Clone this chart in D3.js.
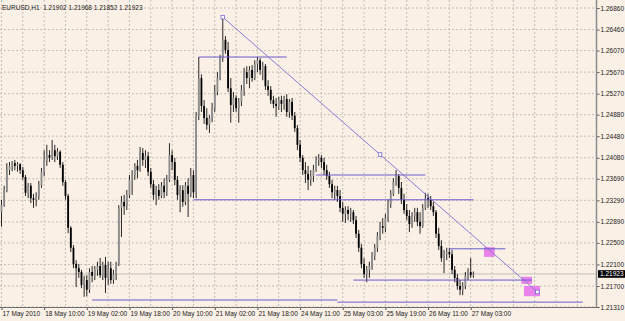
<!DOCTYPE html>
<html>
<head>
<meta charset="utf-8">
<script src="https://cdn.jsdelivr.net/npm/d3@7"></script>
<style>
  html, body { margin: 0; padding: 0; background: #faf0e6; }
  svg { display: block; font-family: "Liberation Sans", Arial, sans-serif; }
</style>
</head>
<body>
<svg width="625" height="321"></svg>
<script>
// EURUSD H1, 17 May 18:00 .. 27 May 04:00 (2010)
const symbol = "EURUSD,H1";
const timeLabels = ["17 May 2010", "18 May 10:00", "19 May 02:00", "19 May 18:00", "20 May 10:00",
  "21 May 02:00", "21 May 18:00", "24 May 11:00", "25 May 03:00", "25 May 19:00", "26 May 11:00", "27 May 03:00"];
const priceTicks = [1.26860, 1.26460, 1.26070, 1.25670, 1.25270, 1.24880, 1.24480, 1.24080,
  1.23690, 1.23290, 1.22890, 1.22500, 1.22100, 1.21700, 1.21310];

// [open, high, low, close]
const may17 = [
  [1.2307, 1.2330, 1.2280, 1.2320], [1.2320, 1.2356, 1.2317, 1.2348], [1.2348, 1.2398, 1.2344, 1.2385],
  [1.2385, 1.2400, 1.2376, 1.2393], [1.2393, 1.2402, 1.2383, 1.2398], [1.2398, 1.2404, 1.2385, 1.2393]
];
const may18 = [
  [1.2393, 1.2400, 1.2382, 1.2396], [1.2396, 1.2398, 1.2378, 1.2385], [1.2385, 1.2391, 1.2367, 1.2372],
  [1.2372, 1.2376, 1.2337, 1.2343], [1.2343, 1.2361, 1.2333, 1.2356], [1.2356, 1.2361, 1.2324, 1.2333],
  [1.2333, 1.2341, 1.2315, 1.2330], [1.2330, 1.2344, 1.2318, 1.2337], [1.2337, 1.2365, 1.2330, 1.2357],
  [1.2357, 1.2389, 1.2352, 1.2382], [1.2382, 1.2422, 1.2374, 1.2404], [1.2404, 1.2432, 1.2393, 1.2413],
  [1.2413, 1.2422, 1.2400, 1.2408], [1.2408, 1.2441, 1.2404, 1.2422], [1.2422, 1.2432, 1.2400, 1.2411],
  [1.2411, 1.2426, 1.2404, 1.2419], [1.2419, 1.2422, 1.2389, 1.2395], [1.2395, 1.2400, 1.2356, 1.2363],
  [1.2363, 1.2367, 1.2330, 1.2337], [1.2337, 1.2341, 1.2268, 1.2278], [1.2278, 1.2281, 1.2233, 1.2241],
  [1.2241, 1.2246, 1.2203, 1.2211], [1.2211, 1.2218, 1.2168, 1.2203], [1.2203, 1.2211, 1.2185, 1.2196]
];
const may19 = [
  [1.2196, 1.2200, 1.2166, 1.2172], [1.2172, 1.2189, 1.2150, 1.2181], [1.2181, 1.2190, 1.2151, 1.2163],
  [1.2163, 1.2203, 1.2157, 1.2196], [1.2196, 1.2207, 1.2177, 1.2189], [1.2189, 1.2207, 1.2181, 1.2200],
  [1.2200, 1.2215, 1.2189, 1.2207], [1.2207, 1.2222, 1.2185, 1.2190], [1.2190, 1.2215, 1.2181, 1.2209],
  [1.2209, 1.2224, 1.2157, 1.2185], [1.2185, 1.2215, 1.2172, 1.2203], [1.2203, 1.2215, 1.2174, 1.2181],
  [1.2181, 1.2200, 1.2174, 1.2192], [1.2192, 1.2215, 1.2181, 1.2211], [1.2211, 1.2320, 1.2207, 1.2315],
  [1.2315, 1.2337, 1.2261, 1.2326], [1.2326, 1.2339, 1.2302, 1.2318], [1.2318, 1.2348, 1.2311, 1.2339],
  [1.2339, 1.2376, 1.2333, 1.2367], [1.2367, 1.2385, 1.2339, 1.2376], [1.2376, 1.2398, 1.2367, 1.2393],
  [1.2393, 1.2404, 1.2370, 1.2385], [1.2385, 1.2428, 1.2382, 1.2417], [1.2417, 1.2426, 1.2393, 1.2404]
];
const may20 = [
  [1.2404, 1.2422, 1.2389, 1.2411], [1.2411, 1.2419, 1.2374, 1.2382], [1.2382, 1.2389, 1.2352, 1.2359],
  [1.2359, 1.2367, 1.2330, 1.2339], [1.2339, 1.2356, 1.2320, 1.2348], [1.2348, 1.2359, 1.2330, 1.2337],
  [1.2337, 1.2363, 1.2333, 1.2356], [1.2356, 1.2370, 1.2333, 1.2344], [1.2344, 1.2376, 1.2337, 1.2367],
  [1.2367, 1.2435, 1.2363, 1.2413], [1.2413, 1.2422, 1.2385, 1.2400], [1.2400, 1.2408, 1.2357, 1.2367],
  [1.2367, 1.2374, 1.2330, 1.2339], [1.2339, 1.2357, 1.2307, 1.2348], [1.2348, 1.2357, 1.2317, 1.2326],
  [1.2326, 1.2363, 1.2320, 1.2356], [1.2356, 1.2370, 1.2298, 1.2341], [1.2341, 1.2389, 1.2335, 1.2376],
  [1.2376, 1.2385, 1.2333, 1.2344], [1.2344, 1.2493, 1.2333, 1.2487], [1.2487, 1.2595, 1.2478, 1.2556],
  [1.2556, 1.2563, 1.2493, 1.2504], [1.2504, 1.2515, 1.2471, 1.2482], [1.2482, 1.2500, 1.2460, 1.2469]
];
const may21 = [
  [1.2469, 1.2487, 1.2454, 1.2482], [1.2482, 1.2510, 1.2474, 1.2500], [1.2500, 1.2543, 1.2493, 1.2530],
  [1.2530, 1.2567, 1.2524, 1.2556], [1.2556, 1.2599, 1.2552, 1.2593], [1.2593, 1.2669, 1.2586, 1.2627],
  [1.2627, 1.2634, 1.2601, 1.2608], [1.2608, 1.2623, 1.2530, 1.2537], [1.2537, 1.2556, 1.2473, 1.2506],
  [1.2506, 1.2530, 1.2493, 1.2519], [1.2519, 1.2524, 1.2493, 1.2500], [1.2500, 1.2519, 1.2473, 1.2512],
  [1.2512, 1.2543, 1.2504, 1.2534], [1.2534, 1.2575, 1.2523, 1.2567], [1.2567, 1.2578, 1.2545, 1.2556],
  [1.2556, 1.2578, 1.2537, 1.2571], [1.2571, 1.2580, 1.2549, 1.2556], [1.2556, 1.2589, 1.2552, 1.2582],
  [1.2582, 1.2595, 1.2567, 1.2589], [1.2589, 1.2593, 1.2562, 1.2571], [1.2571, 1.2586, 1.2552, 1.2578],
  [1.2578, 1.2582, 1.2534, 1.2541], [1.2541, 1.2552, 1.2523, 1.2534]
];
const may24 = [
  [1.2534, 1.2541, 1.2508, 1.2515], [1.2515, 1.2523, 1.2500, 1.2508], [1.2508, 1.2519, 1.2484, 1.2504],
  [1.2504, 1.2521, 1.2497, 1.2515], [1.2515, 1.2523, 1.2493, 1.2508], [1.2508, 1.2523, 1.2497, 1.2517],
  [1.2517, 1.2526, 1.2484, 1.2493], [1.2493, 1.2517, 1.2482, 1.2512], [1.2512, 1.2519, 1.2478, 1.2486],
  [1.2486, 1.2493, 1.2456, 1.2463], [1.2463, 1.2469, 1.2422, 1.2432], [1.2432, 1.2441, 1.2400, 1.2408],
  [1.2408, 1.2413, 1.2376, 1.2385], [1.2385, 1.2400, 1.2361, 1.2378], [1.2378, 1.2393, 1.2348, 1.2367],
  [1.2367, 1.2385, 1.2356, 1.2374], [1.2374, 1.2395, 1.2363, 1.2385], [1.2385, 1.2411, 1.2382, 1.2404],
  [1.2404, 1.2415, 1.2393, 1.2408], [1.2408, 1.2413, 1.2389, 1.2400], [1.2400, 1.2408, 1.2376, 1.2385],
  [1.2385, 1.2395, 1.2367, 1.2374], [1.2374, 1.2382, 1.2352, 1.2359], [1.2359, 1.2367, 1.2333, 1.2344]
];
const may25 = [
  [1.2344, 1.2356, 1.2330, 1.2348], [1.2348, 1.2356, 1.2326, 1.2337], [1.2337, 1.2348, 1.2307, 1.2315],
  [1.2315, 1.2326, 1.2289, 1.2304], [1.2304, 1.2318, 1.2287, 1.2311], [1.2311, 1.2318, 1.2292, 1.2304],
  [1.2304, 1.2315, 1.2289, 1.2307], [1.2307, 1.2311, 1.2285, 1.2292], [1.2292, 1.2300, 1.2259, 1.2267],
  [1.2267, 1.2274, 1.2233, 1.2241], [1.2241, 1.2248, 1.2203, 1.2211], [1.2211, 1.2222, 1.2185, 1.2192],
  [1.2192, 1.2207, 1.2177, 1.2200], [1.2200, 1.2215, 1.2185, 1.2207], [1.2207, 1.2233, 1.2200, 1.2226],
  [1.2226, 1.2248, 1.2218, 1.2241], [1.2241, 1.2270, 1.2233, 1.2263], [1.2263, 1.2289, 1.2255, 1.2281],
  [1.2281, 1.2296, 1.2267, 1.2278], [1.2278, 1.2304, 1.2270, 1.2296], [1.2296, 1.2330, 1.2289, 1.2322],
  [1.2322, 1.2348, 1.2315, 1.2341], [1.2341, 1.2370, 1.2337, 1.2363], [1.2363, 1.2385, 1.2356, 1.2374]
];
const may26 = [
  [1.2374, 1.2378, 1.2341, 1.2352], [1.2352, 1.2363, 1.2322, 1.2330], [1.2330, 1.2341, 1.2304, 1.2311],
  [1.2311, 1.2322, 1.2292, 1.2300], [1.2300, 1.2311, 1.2270, 1.2285], [1.2285, 1.2307, 1.2278, 1.2300],
  [1.2300, 1.2315, 1.2289, 1.2307], [1.2307, 1.2315, 1.2281, 1.2289], [1.2289, 1.2307, 1.2267, 1.2281],
  [1.2281, 1.2322, 1.2278, 1.2315], [1.2315, 1.2343, 1.2311, 1.2333], [1.2333, 1.2341, 1.2315, 1.2330],
  [1.2330, 1.2337, 1.2311, 1.2318], [1.2318, 1.2326, 1.2300, 1.2307], [1.2307, 1.2311, 1.2259, 1.2267],
  [1.2267, 1.2278, 1.2237, 1.2244], [1.2244, 1.2255, 1.2215, 1.2222], [1.2222, 1.2237, 1.2194, 1.2229],
  [1.2229, 1.2241, 1.2218, 1.2233], [1.2233, 1.2241, 1.2222, 1.2229], [1.2229, 1.2237, 1.2192, 1.2200],
  [1.2200, 1.2207, 1.2177, 1.2185], [1.2185, 1.2192, 1.2163, 1.2170], [1.2170, 1.2181, 1.2153, 1.2163]
];
const may27 = [
  [1.2163, 1.2177, 1.2153, 1.2170], [1.2170, 1.2196, 1.2164, 1.2189], [1.2189, 1.2203, 1.2181, 1.2196],
  [1.2196, 1.2222, 1.2185, 1.2190], [1.21902, 1.21968, 1.21852, 1.21923]
];

// drawn objects, by bar index and price
const trendLine = [[83, 1.2669], [201, 1.2159]];
const levels = [
  { from: 74, to: 107, price: 1.2595 },
  { from: 118, to: 159, price: 1.2376 },
  { from: 72, to: 177, price: 1.2330 },
  { from: 168, to: 189, price: 1.2239 },
  { from: 132, to: 199, price: 1.2181 },
  { from: 34, to: 126, price: 1.2144 },
  { from: 126, to: 218, price: 1.2140 }
];
const boxes = [
  { from: 181, to: 185, top: 1.2242, bottom: 1.2224 },
  { from: 195, to: 199, top: 1.2187, bottom: 1.2174 },
  { from: 196, to: 202, top: 1.2170, bottom: 1.2151 }
];

const bars = [may17, may18, may19, may20, may21, may24, may25, may26, may27].flat();
const last = bars[bars.length - 1];

const svg = d3.select("svg");
const W = 596, H = 307;

const x = d3.scaleLinear().domain([0, 223]).range([1.5, W]);
const y = d3.scaleLinear().domain([1.2131, 1.2686]).range([H, 8]);

svg.append("clipPath").attr("id", "plot")
  .append("rect").attr("width", W).attr("height", H);

// grid
const grid = svg.append("g").attr("stroke", "#b9b2aa").attr("stroke-dasharray", "2,2").attr("stroke-width", 0.8);
grid.selectAll("line.v").data(d3.range(0, 223, 8)).join("line")
  .attr("x1", d => x(d)).attr("x2", d => x(d)).attr("y1", 0).attr("y2", H);
grid.selectAll("line.h").data(priceTicks).join("line")
  .attr("x1", 0).attr("x2", W).attr("y1", d => y(d)).attr("y2", d => y(d));

const plot = svg.append("g").attr("clip-path", "url(#plot)");

// bid line
plot.append("line")
  .attr("x1", 0).attr("x2", W).attr("y1", y(last[3])).attr("y2", y(last[3]))
  .attr("stroke", "#c4c0bc").attr("stroke-width", 1);

// candles
plot.selectAll("line.wick").data(bars).join("line")
  .attr("x1", (d, i) => x(i)).attr("x2", (d, i) => x(i))
  .attr("y1", d => y(d[1])).attr("y2", d => y(d[2]))
  .attr("stroke", "#111").attr("stroke-width", 0.9);

plot.selectAll("rect.body").data(bars).join("rect")
  .attr("x", (d, i) => x(i) - 0.9)
  .attr("width", 1.8)
  .attr("y", d => y(Math.max(d[0], d[3])))
  .attr("height", d => Math.max(0.8, Math.abs(y(d[0]) - y(d[3]))))
  .attr("fill", d => d[3] >= d[0] ? "#8e8e8e" : "#000");

// rectangles
plot.selectAll("rect.box").data(boxes).join("rect")
  .attr("x", d => x(d.from)).attr("width", d => x(d.to) - x(d.from))
  .attr("y", d => y(d.top)).attr("height", d => y(d.bottom) - y(d.top))
  .attr("fill", "#ea80ea");

// horizontal levels
plot.selectAll("line.level").data(levels).join("line")
  .attr("x1", d => x(d.from)).attr("x2", d => x(d.to))
  .attr("y1", d => y(d.price)).attr("y2", d => y(d.price))
  .attr("stroke", "#6a5acd").attr("stroke-width", 1);

// trend line with its handles
plot.append("line")
  .attr("x1", x(trendLine[0][0])).attr("y1", y(trendLine[0][1]))
  .attr("x2", x(trendLine[1][0])).attr("y2", y(trendLine[1][1]))
  .attr("stroke", "#7d70d4").attr("stroke-width", 0.9);

const handles = [trendLine[0], trendLine[1],
  [(trendLine[0][0] + trendLine[1][0]) / 2, (trendLine[0][1] + trendLine[1][1]) / 2]];
plot.selectAll("rect.handle").data(handles).join("rect")
  .attr("x", d => x(d[0]) - 1.8).attr("y", d => y(d[1]) - 1.8)
  .attr("width", 3.6).attr("height", 3.6)
  .attr("fill", "#fff").attr("stroke", "#6a5acd").attr("stroke-width", 0.7);

// axes
const yAxis = d3.axisRight(y).tickValues(priceTicks).tickSize(3).tickPadding(1)
  .tickFormat(d3.format(".5f"));
const yg = svg.append("g").attr("transform", `translate(${W + 0.5},0)`).call(yAxis);
yg.select(".domain").remove();
yg.selectAll("line").attr("stroke", "#555");
yg.selectAll("text").attr("font-size", 6.5).attr("fill", "#222").attr("font-family", "Liberation Sans, Arial, sans-serif");

const xAxis = d3.axisBottom(x).tickValues(d3.range(0, 177, 16)).tickSize(3).tickPadding(1.5)
  .tickFormat((d, i) => timeLabels[i]);
const xg = svg.append("g").attr("transform", `translate(0,${H})`).call(xAxis);
xg.select(".domain").remove();
xg.selectAll("line").attr("stroke", "#555");
xg.selectAll("text").attr("font-size", 6.5).attr("fill", "#222").attr("text-anchor", "start").attr("x", 0.5)
  .attr("font-family", "Liberation Sans, Arial, sans-serif");

// frame
svg.append("line").attr("x1", W + 0.5).attr("x2", W + 0.5).attr("y1", 0).attr("y2", H + 0.5)
  .attr("stroke", "#8c8c8c").attr("stroke-width", 1.5);
svg.append("line").attr("x1", 0).attr("x2", W + 0.5).attr("y1", H + 0.5).attr("y2", H + 0.5)
  .attr("stroke", "#6e6e6e").attr("stroke-width", 1);

// current price label
const bidY = y(last[3]);
svg.append("rect").attr("x", W + 2).attr("y", bidY - 3.8).attr("width", 27).attr("height", 7.6).attr("fill", "#000");
svg.append("text").attr("x", W + 4).attr("y", bidY).attr("dy", "0.34em")
  .attr("font-size", 6.5).attr("fill", "#fff").text(d3.format(".5f")(last[3]));

// header
svg.append("text").attr("x", 2).attr("y", 9.5).attr("font-size", 6.5).attr("fill", "#222")
  .attr("xml:space", "preserve")
  .text(`${symbol}  ${last.map(d3.format(".5f")).join(" ")}`);
</script>
</body>
</html>
